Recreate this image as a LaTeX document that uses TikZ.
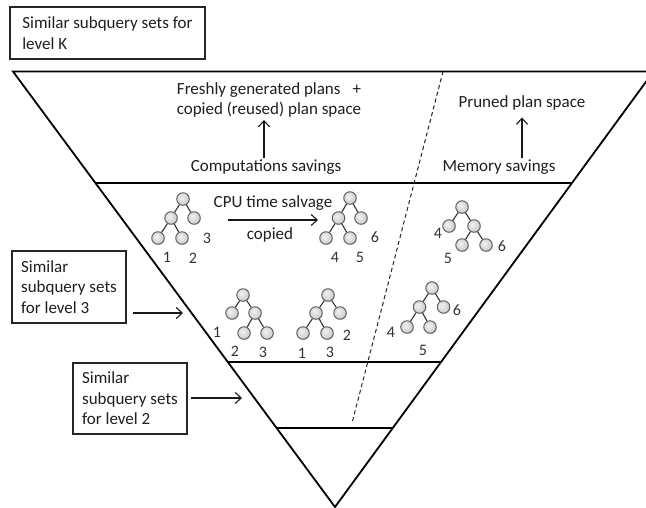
\documentclass[tikz,border=0pt]{standalone}
\usepackage{fontspec}
\setmainfont{Carlito}
\usetikzlibrary{arrows.meta,calc,shadows}

% soft grey bead used for the plan-tree nodes
\pgfdeclareradialshading{bead}{\pgfpoint{-7bp}{7bp}}{color(0bp)=(gray!10); color(16bp)=(gray!28); color(40bp)=(gray!48); color(70bp)=(gray!55)}

\tikzset{
  rim/.style={line width=1.8pt, black, line join=miter},
  level/.style={line width=1.8pt, black},
  splitline/.style={line width=1pt, black!85, dash pattern=on 4pt off 3pt},
  txt/.style={inner sep=0pt, font=\fontsize{17}{20}\selectfont, text=black!88},
  lbl/.style={inner sep=0pt, font=\fontsize{16}{18}\selectfont, text=black!80},
  box/.style={draw=black!85, line width=1.1pt, inner sep=0pt, align=left,
              font=\fontsize{17}{20.5}\selectfont, text=black!88},
  arr/.style={line width=1.1pt, black!90, -{Straight Barb[length=6pt,width=11pt]}},
  bead/.style={circle, minimum size=12.5pt, inner sep=0pt, draw=black!65,
               line width=0.9pt, shading=bead,
               drop shadow={opacity=0.25, shadow xshift=0.7pt, shadow yshift=-0.9pt}},
  twig/.style={line width=1.1pt, black!80},
}

\begin{document}
\begin{tikzpicture}[x=1pt, y=-1pt]
  \useasboundingbox (0,0) rectangle (646,508);
  \fill[white] (0,0) rectangle (646,508);

  % ---- the funnel ----
  \coordinate (tl) at (13,71.5);
  \coordinate (tr) at (653.5,71.5);
  \coordinate (ap) at (335,507);
  \begin{scope}
    \clip (0,0) rectangle (646,508);
    \draw[rim] (tl) -- (tr) -- (ap) -- cycle;
  \end{scope}
  \draw[level] ($(tl)!{111.5/435.5}!(ap)$) -- ($(tr)!{111.5/435.5}!(ap)$);
  \draw[level] ($(tl)!{290.5/435.5}!(ap)$) -- ($(tr)!{290.5/435.5}!(ap)$);
  \draw[level] ($(tl)!{356.5/435.5}!(ap)$) -- ($(tr)!{356.5/435.5}!(ap)$);

  % dashed split between computation and memory side
  \coordinate (d1) at (443,71.5);
  \coordinate (d2) at (352,423);
  \draw[splitline] (d1) -- (d2);

  % ---- level boxes ----
  \node[box, minimum width=195, minimum height=52] (bk) at (107.5,33)
    {Similar subquery sets for\\level K};
  \node[box, minimum width=114, minimum height=72] (b3) at (69,287)
    {Similar\\subquery sets\\for level 3};
  \node[box, minimum width=114, minimum height=71] (b2) at (130,398.5)
    {Similar\\subquery sets\\for level 2};

  \coordinate (e3) at (183,313);
  \coordinate (e2) at (242,398);
  \draw[arr, shorten <=6pt] (b3.east |- e3) -- (e3);
  \draw[arr, shorten <=3pt] (b2.east |- e2) -- (e2);

  % ---- top band texts ----
  \node[txt, align=center] (fg) at (269,99.5)
    {Freshly generated plans\hspace{12pt}+\\copied (reused) plan space};
  \node[txt] (cs) at (266,167) {Computations savings};
  \draw[arr, shorten >=3pt, shorten <=1pt] ([xshift=-2pt]cs.north) -- ([xshift=-2pt]cs.north |- fg.south);

  \node[txt] (pp) at (522,103) {Pruned plan space};
  \node[txt] (ms) at (499,167) {Memory savings};
  \draw[arr, shorten >=7pt, shorten <=1pt] (ms.north -| pp) -- (pp.south);

  % ---- CPU time salvage ----
  \node[txt] (cpu) at (273,203) {CPU time salvage};
  \node[txt] (cp) at (270,235) {copied};
  \coordinate (cpuL) at (228,220);
  \coordinate (cpuR) at (318,220);
  \draw[arr] (cpuL) -- (cpuR);

  % ---- plan trees ----
  % tree 1
  \node[bead] (t1r) at (183,199) {};
  \node[bead] (t1a) at (171,218) {};
  \node[bead] (t1b) at (194,218) {};
  \node[bead] (t1c) at (158,238) {};
  \node[bead] (t1d) at (182,238) {};
  \draw[twig] (t1r) -- (t1a) (t1r) -- (t1b) (t1a) -- (t1c) (t1a) -- (t1d);
  \node[lbl] (l13) at (207,238) {3};
  \node[lbl] (l11) at (167,257) {1};
  \node[lbl] (l12) at (193,258) {2};

  % tree 2
  \node[bead] (t2r) at (350,198) {};
  \node[bead] (t2a) at (338.5,218) {};
  \node[bead] (t2b) at (361,218) {};
  \node[bead] (t2c) at (326,238) {};
  \node[bead] (t2d) at (350,238) {};
  \draw[twig] (t2r) -- (t2a) (t2r) -- (t2b) (t2a) -- (t2c) (t2a) -- (t2d);
  \node[lbl] (l26) at (375,237) {6};
  \node[lbl] (l24) at (335,257) {4};
  \node[lbl] (l25) at (360,257) {5};

  % tree 3
  \node[bead] (t3r) at (462,207) {};
  \node[bead] (t3a) at (449,226) {};
  \node[bead] (t3b) at (474,226) {};
  \node[bead] (t3c) at (462,245) {};
  \node[bead] (t3d) at (486,245) {};
  \draw[twig] (t3r) -- (t3a) (t3r) -- (t3b) (t3b) -- (t3c) (t3b) -- (t3d);
  \node[lbl] (l34) at (438,233) {4};
  \node[lbl] (l35) at (448,258) {5};
  \node[lbl] (l36) at (502,246) {6};

  % tree 4
  \node[bead] (t4r) at (432,288) {};
  \node[bead] (t4a) at (419.5,307) {};
  \node[bead] (t4b) at (443.5,307) {};
  \node[bead] (t4c) at (407,327) {};
  \node[bead] (t4d) at (430,327) {};
  \draw[twig] (t4r) -- (t4a) (t4r) -- (t4b) (t4a) -- (t4c) (t4a) -- (t4d);
  \node[lbl] (l44) at (391,332) {4};
  \node[lbl] (l45) at (423,350) {5};
  \node[lbl] (l46) at (457,310) {6};

  % tree 5
  \node[bead] (t5r) at (243,295) {};
  \node[bead] (t5a) at (232,313) {};
  \node[bead] (t5b) at (255,313) {};
  \node[bead] (t5c) at (244,333) {};
  \node[bead] (t5d) at (267,333) {};
  \draw[twig] (t5r) -- (t5a) (t5r) -- (t5b) (t5b) -- (t5c) (t5b) -- (t5d);
  \node[lbl] (l51) at (217,332) {1};
  \node[lbl] (l52) at (235,351) {2};
  \node[lbl] (l53) at (263,352) {3};

  % tree 6
  \node[bead] (t6r) at (328,295) {};
  \node[bead] (t6a) at (316,313) {};
  \node[bead] (t6b) at (340,313) {};
  \node[bead] (t6c) at (303,333) {};
  \node[bead] (t6d) at (327,333) {};
  \draw[twig] (t6r) -- (t6a) (t6r) -- (t6b) (t6a) -- (t6c) (t6a) -- (t6d);
  \node[lbl] (l62) at (347,335) {2};
  \node[lbl] (l61) at (302,353) {1};
  \node[lbl] (l63) at (330,352) {3};
\end{tikzpicture}
\end{document}
